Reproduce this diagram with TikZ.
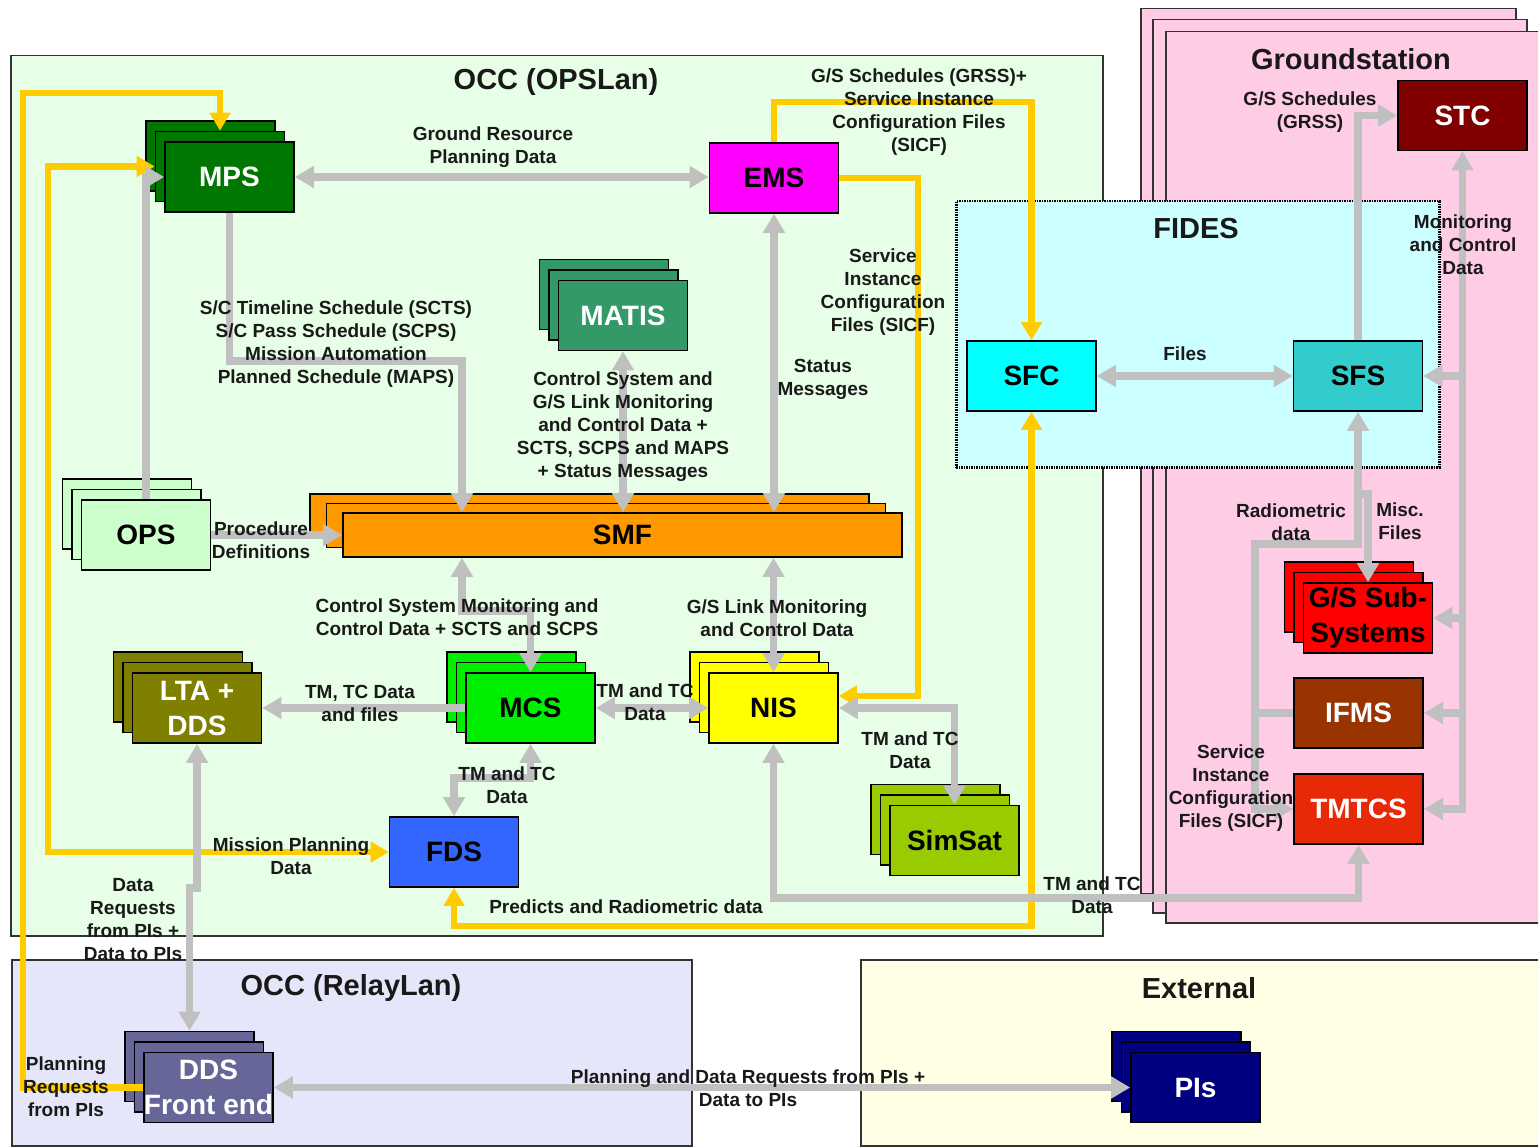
\documentclass[tikz,border=0pt]{standalone}
\usepackage{fontspec}
\setmainfont{Liberation Sans}
\usetikzlibrary{arrows.meta}

% region fills
\definecolor{opsbg}{RGB}{230,255,230}
\definecolor{gsbg}{RGB}{255,204,230}
\definecolor{fidesbg}{RGB}{204,255,255}
\definecolor{relaybg}{RGB}{230,230,250}
\definecolor{extbg}{RGB}{255,255,230}
% connector colours
\definecolor{linegray}{RGB}{192,192,192}
\definecolor{lineyellow}{RGB}{255,204,0}
% system colours
\definecolor{mpsgreen}{RGB}{0,119,0}
\definecolor{emsmag}{RGB}{255,0,255}
\definecolor{matisgreen}{RGB}{51,153,102}
\definecolor{opsgreen}{RGB}{204,255,204}
\definecolor{smforange}{RGB}{255,153,0}
\definecolor{ltaolive}{RGB}{128,128,0}
\definecolor{mcsgreen}{RGB}{0,238,0}
\definecolor{nisyellow}{RGB}{255,255,0}
\definecolor{fdsblue}{RGB}{51,102,255}
\definecolor{simgreen}{RGB}{153,204,0}
\definecolor{sfccyan}{RGB}{0,255,255}
\definecolor{sfsteal}{RGB}{51,204,204}
\definecolor{stcred}{RGB}{128,0,0}
\definecolor{gssred}{RGB}{255,0,0}
\definecolor{ifmsbrown}{RGB}{153,51,0}
\definecolor{tmtcsred}{RGB}{232,41,8}
\definecolor{ddspurple}{RGB}{102,102,153}
\definecolor{pisnavy}{RGB}{0,0,128}

\newcommand\boxfont{\fontsize{28}{35}\selectfont\bfseries}
\newcommand\lblfont{\fontsize{19}{23}\selectfont\bfseries}
\newcommand\ttlfont{\fontsize{29}{34}\selectfont\bfseries}

% layer offsets of stacked boxes
\def\ldx{9.5}
\def\ldy{10.5}
% stacked box: [extra options]{name}{x}{y}{fill}{text colour}{text}
\newcommand\stacked[7][]{%
  \node[box, fill=#5, #1] (#2-2) at (#3-2*\ldx, #4-2*\ldy) {};
  \node[box, fill=#5, #1] (#2-1) at (#3-\ldx, #4-\ldy) {};
  \node[box, fill=#5, text=#6, #1] (#2) at (#3,#4) {#7};
}

\begin{document}
\begin{tikzpicture}[x=1pt,y=-1pt,
  region/.style={draw=black!80, line width=1.5pt, anchor=north west, inner sep=0pt},
  box/.style={draw=black, line width=1.6pt, minimum width=129pt, minimum height=70pt,
    inner sep=0pt, font=\boxfont, align=center},
  lbl/.style={font=\lblfont, align=center, inner sep=0pt, text=black!90, yshift=-2pt},
  ttl/.style={font=\ttlfont, inner sep=0pt, text=black!90, yshift=-2pt},
  gl/.style={draw=linegray, line width=7.5pt, >={Triangle[length=19pt,width=21pt]}},
  yl/.style={draw=lineyellow, line width=6.5pt, >={Triangle[length=18pt,width=20pt]}}]

\useasboundingbox (0,0) rectangle (1538,1147);

% ---------- regions ----------
\node[region, fill=gsbg, minimum width=375pt, minimum height=885pt] (gs-2) at (1140,8) {};
\node[region, fill=gsbg, minimum width=374pt, minimum height=893pt] (gs-1) at (1152,19) {};
\node[region, fill=gsbg, minimum width=380pt, minimum height=891pt] (gs) at (1165,31) {};
\node[region, fill=opsbg, minimum width=1092pt, minimum height=880pt] (opslan) at (10,55) {};
\node[region, fill=fidesbg, draw=black, densely dotted, line width=2.5pt,
  minimum width=483pt, minimum height=266pt] (fides) at (955,200) {};
\node[region, fill=relaybg, minimum width=680pt, minimum height=186pt] (relay) at (11,959) {};
\node[region, fill=extbg, minimum width=690pt, minimum height=186pt] (external) at (860,959) {};

\node[ttl] (t-ops) at (556,80) {OCC (OPSLan)};
\node[ttl] (t-gs) at (1351,57) {Groundstation};
\node[ttl] (t-fides) at (1196,227) {FIDES};
\node[ttl] (t-relay) at (351,986) {OCC (RelayLan)};
\node[ttl] (t-ext) at (1199,986) {External};

% ---------- systems ----------
\stacked{MPS}{229.5}{177}{mpsgreen}{white}{MPS}
\node[box, fill=emsmag] (EMS) at (774,178) {EMS};
\stacked{MATIS}{623}{315.5}{matisgreen}{white}{MATIS}
\stacked{OPS}{146}{535}{opsgreen}{black}{OPS}
{\def\ldx{16.5}\def\ldy{9.5}%
 \stacked[minimum width=559pt, minimum height=44pt]{SMF}{622.5}{535}{smforange}{black}{SMF}}
\stacked{LTA}{197}{708}{ltaolive}{white}{LTA +\\DDS}
\stacked{MCS}{530.5}{708}{mcsgreen}{black}{MCS}
\stacked{NIS}{773.5}{708}{nisyellow}{black}{NIS}
\node[box, fill=fdsblue] (FDS) at (454,852) {FDS};
\stacked{SimSat}{954.5}{840.5}{simgreen}{black}{SimSat}
\node[box, fill=sfccyan] (SFC) at (1031.5,376) {SFC};
\node[box, fill=sfsteal] (SFS) at (1358,376) {SFS};
\node[box, fill=stcred, text=white] (STC) at (1462.5,115.5) {STC};
\stacked{GSS}{1368}{618}{gssred}{black}{G/S Sub-\\Systems}
\node[box, fill=ifmsbrown, text=white] (IFMS) at (1358.5,713) {IFMS};
\node[box, fill=tmtcsred, text=white] (TMTCS) at (1358.5,809) {TMTCS};
\stacked{DDS}{208.5}{1087.5}{ddspurple}{white}{DDS\\Front end}
\stacked{PIs}{1195.5}{1087.5}{pisnavy}{white}{PIs}

% ---------- planning / configuration flows (yellow) ----------
\draw[yl,->] (DDS.west) -| (23,93) -| (MPS-1.north);
\draw[yl,<->] (MPS-1.west) -| (48,852) -- (FDS.west);
\draw[yl,->] (EMS.north) -- ++(0,-40) -| (SFC.north);
\draw[yl,->] (EMS.east) -| ([xshift=79pt,yshift=12pt]NIS.east) -- ([yshift=12pt]NIS.east);
\draw[yl,<->] (FDS.south) -- ++(0,38) -| (SFC.south);

% ---------- data flows (grey) ----------
\draw[gl,<->] (MPS.east) -- (EMS.west |- MPS.east);
\draw[gl,->] (OPS.north) |- (MPS.west);
\draw[gl,->] (MPS.south) |- ([xshift=-160.5pt,yshift=151pt]SMF.north) -- ([xshift=-160.5pt]SMF.north);
\draw[gl,<->] (MATIS.south) -- (MATIS.south |- SMF.north);
\draw[gl,<->] (EMS.south) -- (EMS.south |- SMF.north);
\draw[gl,->] (OPS.east) -- (SMF.west);
\draw[gl,<->] ([xshift=-160.5pt]SMF.south) -- ++(0,53) -| (MCS.north);
\draw[gl,<->] (NIS.north |- SMF.south) -- (NIS.north);
\draw[gl,->] (MCS.west) -- (LTA.east);
\draw[gl,<->] (MCS.east) -- (NIS.west);
\draw[gl,<->] (MCS.south) -- ++(0,34) -| (FDS.north);
\draw[gl,<->] (NIS.east) -| (SimSat.north);
\draw[gl,<->] (NIS.south) -- ++(0,154) -| (TMTCS.south);
\draw[gl,<->] (LTA.south) -- ++(0,144) -| (DDS-2.north);
\draw[gl,<->] (DDS.east) -- (PIs.west);
\draw[gl,<->] (SFC.east) -- (SFS.west);
\draw[gl,->] (SFS.north) |- (STC.west);
\draw[gl,<->] (STC.south) |- (TMTCS.east);
\draw[gl,->] (STC.south |- SFS.east) -- (SFS.east);
\draw[gl,->] (STC.south |- GSS.east) -- (GSS.east);
\draw[gl,->] (STC.south |- IFMS.east) -- (IFMS.east);
\draw[gl,<->] (SFS.south) -- ++(0,132) -| ([xshift=-38pt]TMTCS.west) -- (TMTCS.west);
\draw[gl] (IFMS.west) -- ++(-38,0);
\draw[gl,->] ([yshift=-82pt]SFS.south) -| (GSS.north);

% ---------- flow labels ----------
\node[lbl] (l-grpd) at (493,145) {Ground Resource\\Planning Data};
\node[lbl] (l-sicf1) at (919,110) {G/S Schedules (GRSS)+\\Service Instance\\Configuration Files\\(SICF)};
\node[lbl] (l-scts) at (336,342) {S/C Timeline Schedule (SCTS)\\S/C Pass Schedule (SCPS)\\Mission Automation\\Planned Schedule (MAPS)};
\node[lbl] (l-sicf2) at (883,290) {Service\\Instance\\Configuration\\Files (SICF)};
\node[lbl] (l-status) at (823,377) {Status\\Messages};
\node[lbl] (l-matis) at (623,424.5) {Control System and\\G/S Link Monitoring\\and Control Data +\\SCTS, SCPS and MAPS\\+ Status Messages};
\node[lbl] (l-proc) at (261,538) {Procedure\\Definitions};
\node[lbl] (l-csmc) at (457,615.5) {Control System Monitoring and\\Control Data + SCTS and SCPS};
\node[lbl] (l-gslink) at (777,616) {G/S Link Monitoring\\and Control Data};
\node[lbl] (l-tmtcf) at (360,701) {TM, TC Data\\and files};
\node[lbl] (l-tm1) at (645,700) {TM and TC\\Data};
\node[lbl] (l-tm2) at (507,783) {TM and TC\\Data};
\node[lbl] (l-tm3) at (910,748) {TM and TC\\Data};
\node[lbl] (l-mpd) at (291,854) {Mission Planning\\Data};
\node[lbl] (l-dreq) at (133,918) {Data\\Requests\\from PIs +\\Data to PIs};
\node[lbl] (l-pred) at (626,905) {Predicts and Radiometric data};
\node[lbl] (l-tm4) at (1092,893) {TM and TC\\Data};
\node[lbl] (l-preq) at (748,1086) {Planning and Data Requests from PIs +\\Data to PIs};
\node[lbl] (l-plan) at (66,1085) {Planning\\Requests\\from PIs};
\node[lbl] (l-files) at (1185,352) {Files};
\node[lbl] (l-grss) at (1310,110) {G/S Schedules\\(GRSS)};
\node[lbl] (l-mcd) at (1463,243) {Monitoring\\and Control\\Data};
\node[lbl] (l-radio) at (1291,520) {Radiometric\\data};
\node[lbl] (l-misc) at (1400,519) {Misc.\\Files};
\node[lbl] (l-sicf3) at (1231,786) {Service\\Instance\\Configuration\\Files (SICF)};
\end{tikzpicture}
\end{document}
